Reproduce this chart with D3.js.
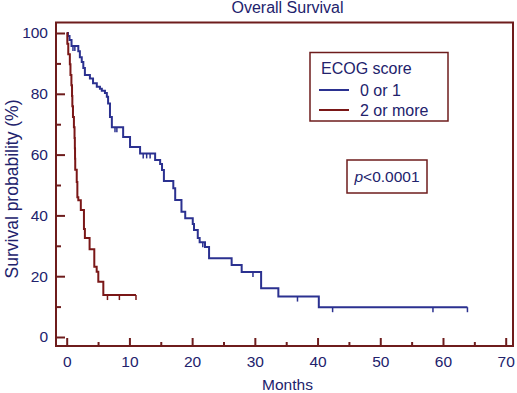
<!DOCTYPE html>
<html>
<head>
<meta charset="utf-8">
<script src="https://cdn.jsdelivr.net/npm/d3@7"></script>
<style>
  body { margin: 0; background: #fff; }
  svg text { font-family: "Liberation Sans", Arial, sans-serif; fill: #22226c; }
</style>
</head>
<body>
<div id="chart"></div>
<script>
// Kaplan-Meier steps: [month, survival % after the drop]
const lowEcogSteps = [
  [0.2, 99], [0.45, 97.7], [0.77, 95.7], [1.85, 94], [2.1, 92], [2.4, 90.5],
  [2.65, 88.5], [2.9, 86.2], [3.7, 85], [4.2, 83.5], [4.8, 82.3], [5.3, 81.7],
  [5.6, 81], [6.1, 80.3], [6.4, 79], [6.6, 76.8], [6.9, 72.4], [7.2, 69],
  [9.0, 65.8], [10.1, 62.5], [11.7, 60.4], [14.1, 58.2], [14.9, 56.9],
  [15.2, 54.9], [15.5, 51.3], [17.0, 48.9], [17.3, 45.1], [18.3, 41.2],
  [18.9, 39.1], [20.1, 37.2], [20.3, 35.2], [20.9, 32.6], [21.2, 31.2],
  [22.05, 29.6], [22.7, 25.9], [26.3, 23.7], [27.9, 21.4], [31.0, 16.0],
  [33.75, 13.3], [40.2, 9.8]
];
const lowEcogCensored = [1.0, 1.3, 7.7, 8.0, 12.2, 12.75, 13.3, 21.7, 29.7, 36.8, 42.4, 58.4, 63.9];
const lowEcogEnd = 63.9;

const highEcogSteps = [
  [0.1, 96.5], [0.25, 93], [0.5, 89.7], [0.6, 86.2], [0.75, 82.8], [0.85, 79.3],
  [0.9, 75.9], [1.0, 72.4], [1.15, 69], [1.25, 65.5], [1.3, 62.1], [1.33, 58.6],
  [1.36, 55], [1.6, 51], [1.7, 46], [1.85, 45], [2.25, 41.8], [2.75, 35.5],
  [2.9, 32.6], [3.65, 28.9], [4.4, 23.1], [4.78, 21.5], [5.04, 18.2], [5.84, 13.8]
];
const highEcogCensored = [6.5, 8.4, 11.05];
const highEcogEnd = 11.05;

const xMajor = [0, 10, 20, 30, 40, 50, 60, 70];
const xMinor = [5, 15, 25, 35, 45, 55, 65];
const yMajor = [0, 20, 40, 60, 80, 100];
const yMinor = [10, 30, 50, 70, 90];

const W = 517, H = 393;
const frame = {l: 56, r: 513, t: 22.5, b: 346};
const blue = "#2b3190", red = "#7a1717", axisCol = "#6e1c1c";

const svg = d3.select("#chart").append("svg")
  .attr("width", W)
  .attr("height", H);

const x = d3.scaleLinear().domain([0, 70]).range([66.7, 505.7]);
const y = d3.scaleLinear().domain([0, 100]).range([337, 33]);

// frame
svg.append("rect")
  .attr("x", frame.l).attr("y", frame.t)
  .attr("width", frame.r - frame.l).attr("height", frame.b - frame.t)
  .attr("fill", "none").attr("stroke", axisCol).attr("stroke-width", 2);

function styleAxis(g) {
  g.select(".domain").remove();
  g.selectAll("line").attr("stroke", axisCol).attr("stroke-width", 2);
  g.selectAll("text").attr("font-size", 15.5).attr("fill", "#22226c")
    .attr("font-family", "Liberation Sans, Arial, sans-serif");
}

svg.append("g").attr("transform", `translate(${frame.l},0)`)
  .call(d3.axisLeft(y).tickValues(yMajor).tickSize(-9).tickPadding(8))
  .call(styleAxis);
svg.append("g").attr("transform", `translate(${frame.l},0)`)
  .call(d3.axisLeft(y).tickValues(yMinor).tickSize(-5).tickFormat(""))
  .call(styleAxis);
svg.append("g").attr("transform", `translate(0,${frame.b})`)
  .call(d3.axisBottom(x).tickValues(xMajor).tickSize(-8).tickPadding(10))
  .call(styleAxis);
svg.append("g").attr("transform", `translate(0,${frame.b})`)
  .call(d3.axisBottom(x).tickValues(xMinor).tickSize(-4).tickFormat(""))
  .call(styleAxis);

// curves
const line = d3.line()
  .x(d => x(d[0]))
  .y(d => y(d[1]))
  .curve(d3.curveStepAfter);

function drawCurve(steps, censored, end, color) {
  const pts = [[0, 100], ...steps, [end, steps[steps.length - 1][1]]];
  svg.append("path")
    .attr("d", line(pts))
    .attr("fill", "none")
    .attr("stroke", color)
    .attr("stroke-width", 2);
  const levelAt = t => {
    let s = 100;
    steps.forEach(d => { if (d[0] <= t) s = d[1]; });
    return s;
  };
  svg.selectAll(null)
    .data(censored)
    .enter()
    .append("line")
    .attr("x1", d => x(d)).attr("x2", d => x(d))
    .attr("y1", d => y(levelAt(d)))
    .attr("y2", d => y(levelAt(d)) + 5)
    .attr("stroke", color)
    .attr("stroke-width", 1.5);
}

drawCurve(lowEcogSteps, lowEcogCensored, lowEcogEnd, blue);
drawCurve(highEcogSteps, highEcogCensored, highEcogEnd, red);

// titles
svg.append("text")
  .attr("x", 287.5).attr("y", 13)
  .attr("text-anchor", "middle")
  .attr("font-size", 16)
  .text("Overall Survival");

svg.append("text")
  .attr("x", 287.5).attr("y", 390)
  .attr("text-anchor", "middle")
  .attr("font-size", 15.5)
  .text("Months");

svg.append("text")
  .attr("transform", "translate(18,189) rotate(-90)")
  .attr("text-anchor", "middle")
  .attr("font-size", 17.5)
  .text("Survival probability (%)");

// legend
const legend = svg.append("g");
legend.append("rect")
  .attr("x", 310).attr("y", 52.5).attr("width", 138).attr("height", 68.5)
  .attr("fill", "#fff").attr("stroke", axisCol).attr("stroke-width", 1.5);
legend.append("text").attr("x", 321).attr("y", 73.5).attr("font-size", 16).text("ECOG score");
[["0 or 1", blue], ["2 or more", red]].forEach((d, i) => {
  const ly = 90 + i * 20;
  legend.append("line")
    .attr("x1", 319).attr("x2", 349).attr("y1", ly).attr("y2", ly)
    .attr("stroke", d[1]).attr("stroke-width", 2);
  legend.append("text").attr("x", 360).attr("y", ly + 5.5).attr("font-size", 16).text(d[0]);
});

// p-value box
svg.append("rect")
  .attr("x", 347).attr("y", 160).attr("width", 80).attr("height", 33)
  .attr("fill", "#fff").attr("stroke", axisCol).attr("stroke-width", 1.5);
const pText = svg.append("text")
  .attr("x", 387).attr("y", 182)
  .attr("text-anchor", "middle")
  .attr("font-size", 15.5);
pText.append("tspan").attr("font-style", "italic").text("p");
pText.append("tspan").text("<0.0001");
</script>
</body>
</html>
